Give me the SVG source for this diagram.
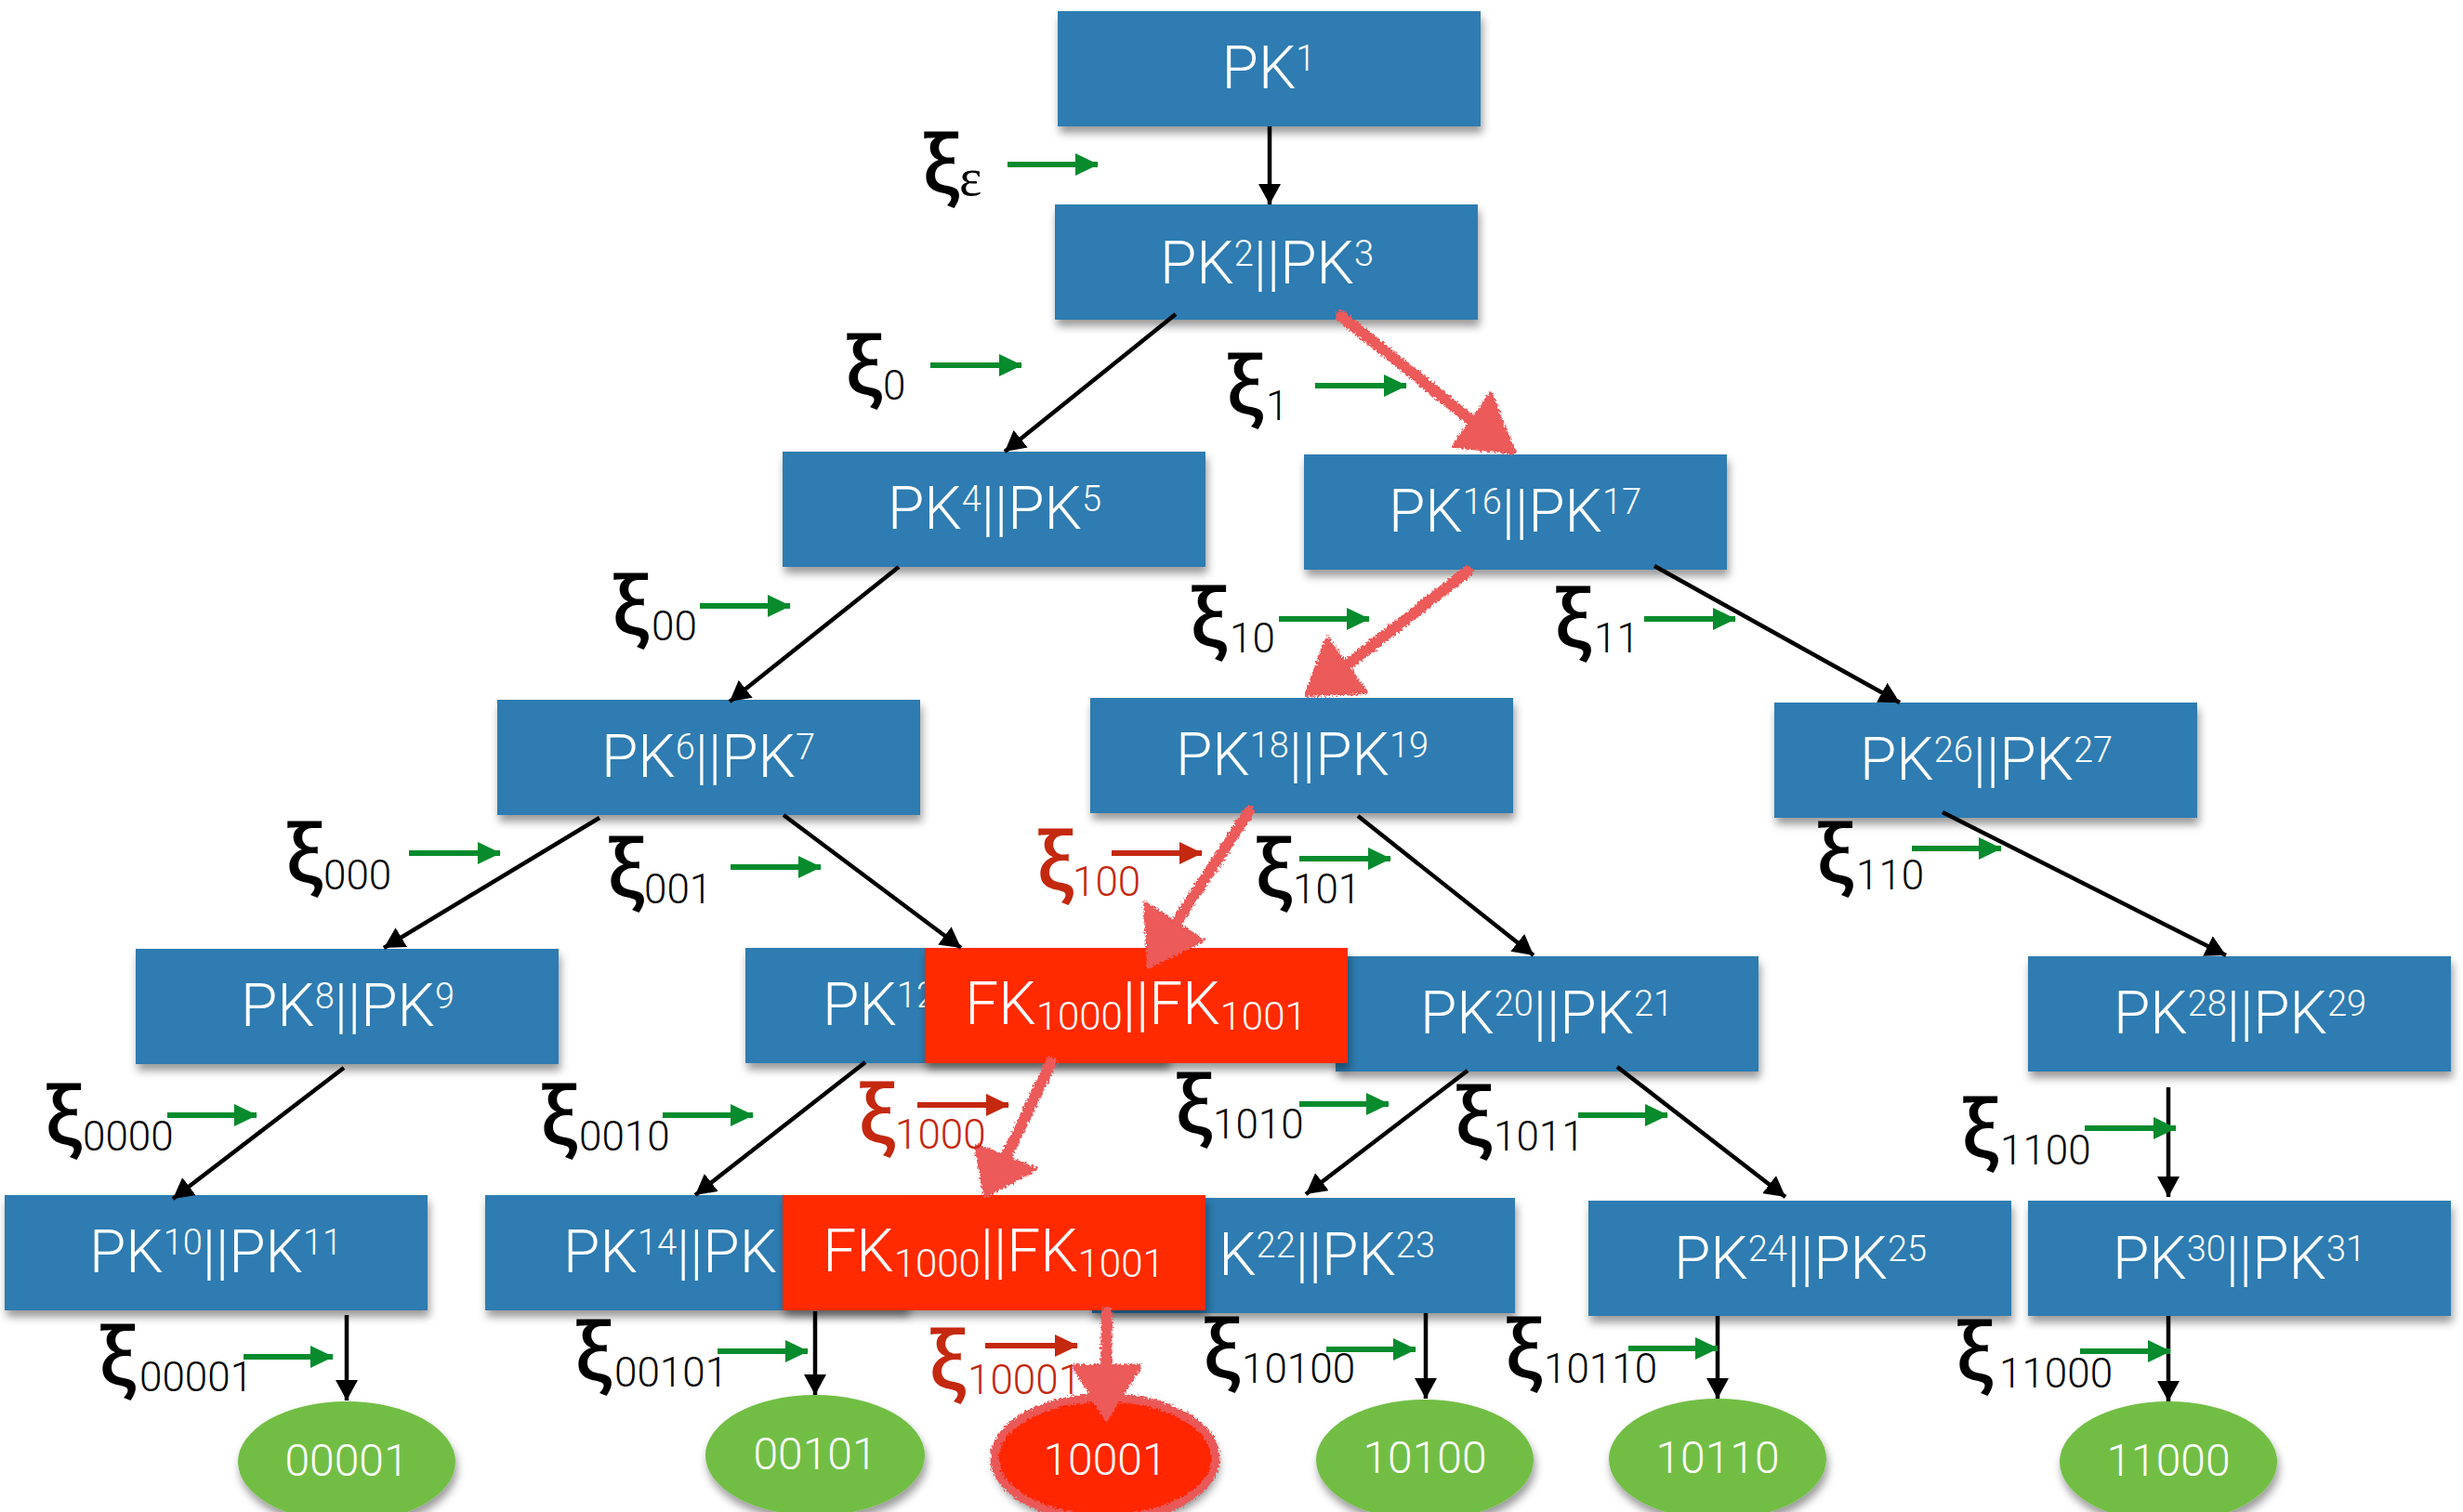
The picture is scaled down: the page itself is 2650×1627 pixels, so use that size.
<svg xmlns="http://www.w3.org/2000/svg" width="2650" height="1627" viewBox="0 0 2650 1627">
  <defs>
    <style>
      .box { fill: #2f7bb1; }
      .fbox { fill: #ff2a00; }
      .leaf { fill: #72be45; }
      .bt { font-family: Roboto, "Liberation Sans", sans-serif; font-weight: 300; font-size: 64px; fill: #ffffff; }
      .sup { font-size: 38px; }
      .sub { font-size: 42px; }
      .lt { font-family: Roboto, "Liberation Sans", sans-serif; font-weight: 300; font-size: 48px; fill: #ffffff; text-anchor: middle; }
      .xi { font-family: "Noto Sans CJK SC", Roboto, sans-serif; font-weight: 500; font-size: 82px; fill: #000000; }
      .xs { font-family: Roboto, "Liberation Sans", sans-serif; font-weight: 300; font-size: 44px; fill: #000000; }
      .red { fill: #c4280f; }
      .edge { stroke: #000000; stroke-width: 4.5; fill: none; marker-end: url(#ah); }
      .gk { stroke: #078b2d; stroke-width: 6; fill: none; marker-end: url(#gh); }
      .rk { stroke: #c4280f; stroke-width: 6; fill: none; marker-end: url(#rh); }
      .path { stroke: #ec5a5a; stroke-width: 12; fill: none; stroke-linecap: round; }
      .pathhead { fill: #ec5a5a; stroke: #ec5a5a; stroke-width: 4; stroke-linejoin: round; }
    </style>
    <marker id="ah" viewBox="0 0 22 24" markerWidth="22" markerHeight="24" refX="22" refY="12" orient="auto" markerUnits="userSpaceOnUse">
      <path d="M0,0 L22,12 L0,24 Z" fill="#000000"/>
    </marker>
    <marker id="gh" viewBox="0 0 25 24" markerWidth="25" markerHeight="24" refX="24" refY="12" orient="auto" markerUnits="userSpaceOnUse">
      <path d="M0,0 L25,12 L0,24 Z" fill="#078b2d"/>
    </marker>
    <marker id="rh" viewBox="0 0 25 24" markerWidth="25" markerHeight="24" refX="24" refY="12" orient="auto" markerUnits="userSpaceOnUse">
      <path d="M0,0 L25,12 L0,24 Z" fill="#c4280f"/>
    </marker>
    <filter id="shadow" x="-10%" y="-20%" width="125%" height="160%">
      <feDropShadow dx="2" dy="7" stdDeviation="5" flood-color="#000000" flood-opacity="0.4"/>
    </filter>
    <filter id="chalk" x="-20%" y="-20%" width="140%" height="140%">
      <feTurbulence type="fractalNoise" baseFrequency="0.4" numOctaves="2" seed="3" result="n"/>
      <feDisplacementMap in="SourceGraphic" in2="n" scale="7" xChannelSelector="R" yChannelSelector="G"/>
    </filter>
  </defs>

  <rect width="2650" height="1627" fill="#ffffff"/>

  <!-- key boxes -->
  <g id="nodes">
    <g id="pk1"><rect class="box" x="1138" y="12" width="455" height="124" filter="url(#shadow)"/>
      <text class="bt" x="1365" y="95" text-anchor="middle">PK<tspan class="sup" dy="-19">1</tspan></text></g>
    <g id="pk2"><rect class="box" x="1135" y="220" width="455" height="124" filter="url(#shadow)"/>
      <text class="bt" x="1363" y="305" text-anchor="middle">PK<tspan class="sup" dy="-19">2</tspan><tspan dy="19">||PK</tspan><tspan class="sup" dy="-19">3</tspan></text></g>
    <g id="pk4"><rect class="box" x="842" y="486" width="455" height="124" filter="url(#shadow)"/>
      <text class="bt" x="1070" y="569" text-anchor="middle">PK<tspan class="sup" dy="-19">4</tspan><tspan dy="19">||PK</tspan><tspan class="sup" dy="-19">5</tspan></text></g>
    <g id="pk16"><rect class="box" x="1403" y="489" width="455" height="124" filter="url(#shadow)"/>
      <text class="bt" x="1630" y="572" text-anchor="middle">PK<tspan class="sup" dy="-19">16</tspan><tspan dy="19">||PK</tspan><tspan class="sup" dy="-19">17</tspan></text></g>
    <g id="pk6"><rect class="box" x="535" y="753" width="455" height="124" filter="url(#shadow)"/>
      <text class="bt" x="762" y="836" text-anchor="middle">PK<tspan class="sup" dy="-19">6</tspan><tspan dy="19">||PK</tspan><tspan class="sup" dy="-19">7</tspan></text></g>
    <g id="pk18"><rect class="box" x="1173" y="751" width="455" height="124" filter="url(#shadow)"/>
      <text class="bt" x="1401" y="834" text-anchor="middle">PK<tspan class="sup" dy="-19">18</tspan><tspan dy="19">||PK</tspan><tspan class="sup" dy="-19">19</tspan></text></g>
    <g id="pk26"><rect class="box" x="1909" y="756" width="455" height="124" filter="url(#shadow)"/>
      <text class="bt" x="2137" y="839" text-anchor="middle">PK<tspan class="sup" dy="-19">26</tspan><tspan dy="19">||PK</tspan><tspan class="sup" dy="-19">27</tspan></text></g>
    <g id="pk8"><rect class="box" x="146" y="1021" width="455" height="124" filter="url(#shadow)"/>
      <text class="bt" x="374" y="1104" text-anchor="middle">PK<tspan class="sup" dy="-19">8</tspan><tspan dy="19">||PK</tspan><tspan class="sup" dy="-19">9</tspan></text></g>
    <g id="pk12"><rect class="box" x="802" y="1020" width="455" height="124" filter="url(#shadow)"/>
      <text class="bt" x="885" y="1103">PK<tspan class="sup" dy="-19">12</tspan></text></g>
    <g id="pk20"><rect class="box" x="1437" y="1029" width="455" height="124" filter="url(#shadow)"/>
      <text class="bt" x="1664" y="1112" text-anchor="middle">PK<tspan class="sup" dy="-19">20</tspan><tspan dy="19">||PK</tspan><tspan class="sup" dy="-19">21</tspan></text></g>
    <g id="fk-upper"><rect class="fbox" x="995" y="1020" width="455" height="124" filter="url(#shadow)"/>
      <text class="bt" x="1222" y="1102" text-anchor="middle">FK<tspan class="sub" dy="6">1000</tspan><tspan dy="-6">||FK</tspan><tspan class="sub" dy="6">1001</tspan></text></g>
    <g id="pk28"><rect class="box" x="2182" y="1029" width="455" height="124" filter="url(#shadow)"/>
      <text class="bt" x="2410" y="1112" text-anchor="middle">PK<tspan class="sup" dy="-19">28</tspan><tspan dy="19">||PK</tspan><tspan class="sup" dy="-19">29</tspan></text></g>
    <g id="pk10"><rect class="box" x="5" y="1286" width="455" height="124" filter="url(#shadow)"/>
      <text class="bt" x="232" y="1369" text-anchor="middle">PK<tspan class="sup" dy="-19">10</tspan><tspan dy="19">||PK</tspan><tspan class="sup" dy="-19">11</tspan></text></g>
    <g id="pk14"><rect class="box" x="522" y="1286" width="455" height="124" filter="url(#shadow)"/>
      <text class="bt" x="606" y="1369">PK<tspan class="sup" dy="-19">14</tspan><tspan dy="19">||PK</tspan></text></g>
    <g id="pk22"><rect class="box" x="1175" y="1289" width="455" height="124" filter="url(#shadow)"/>
      <text class="bt" x="1544" y="1372" text-anchor="end">K<tspan class="sup" dy="-19">22</tspan><tspan dy="19">||PK</tspan><tspan class="sup" dy="-19">23</tspan></text></g>
    <g id="fk-lower"><rect class="fbox" x="842" y="1286" width="455" height="124" filter="url(#shadow)"/>
      <text class="bt" x="1069" y="1368" text-anchor="middle">FK<tspan class="sub" dy="6">1000</tspan><tspan dy="-6">||FK</tspan><tspan class="sub" dy="6">1001</tspan></text></g>
    <g id="pk24"><rect class="box" x="1709" y="1292" width="455" height="124" filter="url(#shadow)"/>
      <text class="bt" x="1937" y="1376" text-anchor="middle">PK<tspan class="sup" dy="-19">24</tspan><tspan dy="19">||PK</tspan><tspan class="sup" dy="-19">25</tspan></text></g>
    <g id="pk30"><rect class="box" x="2182" y="1292" width="455" height="124" filter="url(#shadow)"/>
      <text class="bt" x="2409" y="1376" text-anchor="middle">PK<tspan class="sup" dy="-19">30</tspan><tspan dy="19">||PK</tspan><tspan class="sup" dy="-19">31</tspan></text></g>

    <!-- leaves -->
    <g id="leaf-00001"><ellipse class="leaf" cx="373" cy="1573" rx="117" ry="65" filter="url(#shadow)"/>
      <text class="lt" x="373" y="1588">00001</text></g>
    <g id="leaf-00101"><ellipse class="leaf" cx="877" cy="1566" rx="118" ry="65" filter="url(#shadow)"/>
      <text class="lt" x="877" y="1581">00101</text></g>
    <g id="leaf-10001"><ellipse cx="1189" cy="1569" rx="121" ry="67" fill="#ff2600" filter="url(#shadow)"/>
      <ellipse cx="1189" cy="1569" rx="119" ry="65" fill="none" stroke="#ea5858" stroke-width="9" filter="url(#chalk)"/>
      <text class="lt" x="1189" y="1587">10001</text></g>
    <g id="leaf-10100"><ellipse class="leaf" cx="1533" cy="1571" rx="117" ry="65" filter="url(#shadow)"/>
      <text class="lt" x="1533" y="1585">10100</text></g>
    <g id="leaf-10110"><ellipse class="leaf" cx="1848" cy="1570" rx="117" ry="65" filter="url(#shadow)"/>
      <text class="lt" x="1848" y="1585">10110</text></g>
    <g id="leaf-11000"><ellipse class="leaf" cx="2333" cy="1573" rx="117" ry="65" filter="url(#shadow)"/>
      <text class="lt" x="2333" y="1588">11000</text></g>
  </g>

  <!-- tree edges -->
  <g id="connectors">
    <line class="edge" x1="1366" y1="136" x2="1366" y2="220"/>
    <line class="edge" x1="1265" y1="338" x2="1081" y2="486"/>
    <line class="edge" x1="967" y1="610" x2="785" y2="755"/>
    <line class="edge" x1="1780" y1="609" x2="2044" y2="756"/>
    <line class="edge" x1="645" y1="880" x2="413" y2="1020"/>
    <line class="edge" x1="843" y1="877" x2="1034" y2="1020"/>
    <line class="edge" x1="1461" y1="878" x2="1650" y2="1028"/>
    <line class="edge" x1="2090" y1="874" x2="2395" y2="1028"/>
    <line class="edge" x1="370" y1="1149" x2="186" y2="1290"/>
    <line class="edge" x1="931" y1="1143" x2="748" y2="1286"/>
    <line class="edge" x1="1579" y1="1152" x2="1405" y2="1285"/>
    <line class="edge" x1="1740" y1="1148" x2="1921" y2="1288"/>
    <line class="edge" x1="2333" y1="1170" x2="2333" y2="1288"/>
    <line class="edge" x1="373" y1="1415" x2="373" y2="1507"/>
    <line class="edge" x1="877" y1="1411" x2="877" y2="1501"/>
    <line class="edge" x1="1534" y1="1413" x2="1534" y2="1505"/>
    <line class="edge" x1="1848" y1="1416" x2="1848" y2="1505"/>
    <line class="edge" x1="2333" y1="1416" x2="2333" y2="1508"/>

    <!-- short input arrows beside each label -->
    <line class="gk" x1="1084" y1="177" x2="1181" y2="177"/>
    <line class="gk" x1="1001" y1="393" x2="1099" y2="393"/>
    <line class="gk" x1="1415" y1="415" x2="1513" y2="415"/>
    <line class="gk" x1="753" y1="652" x2="850" y2="652"/>
    <line class="gk" x1="1376" y1="666" x2="1473" y2="666"/>
    <line class="gk" x1="1769" y1="666" x2="1867" y2="666"/>
    <line class="gk" x1="440" y1="918" x2="538" y2="918"/>
    <line class="gk" x1="786" y1="933" x2="883" y2="933"/>
    <line class="gk" x1="1398" y1="924" x2="1496" y2="924"/>
    <line class="gk" x1="2057" y1="913" x2="2153" y2="913"/>
    <line class="gk" x1="180" y1="1200" x2="276" y2="1200"/>
    <line class="gk" x1="713" y1="1200" x2="810" y2="1200"/>
    <line class="gk" x1="1398" y1="1188" x2="1494" y2="1188"/>
    <line class="gk" x1="1698" y1="1200" x2="1794" y2="1200"/>
    <line class="gk" x1="2243" y1="1214" x2="2341" y2="1214"/>
    <line class="gk" x1="262" y1="1460" x2="358" y2="1460"/>
    <line class="gk" x1="772" y1="1454" x2="869" y2="1454"/>
    <line class="gk" x1="1427" y1="1452" x2="1523" y2="1452"/>
    <line class="gk" x1="1752" y1="1451" x2="1848" y2="1451"/>
    <line class="gk" x1="2238" y1="1454" x2="2335" y2="1454"/>
    <line class="rk" x1="1196" y1="918" x2="1293" y2="918"/>
    <line class="rk" x1="987" y1="1189" x2="1085" y2="1189"/>
    <line class="rk" x1="1060" y1="1448" x2="1159" y2="1448"/>

    <!-- hand-drawn path through the tree -->
    <g filter="url(#chalk)">
      <line class="path" x1="1443" y1="340" x2="1590" y2="458"/>
      <polygon class="pathhead" points="1604,424 1629,487 1564,480"/>
      <line class="path" x1="1579" y1="615" x2="1446" y2="718"/>
      <polygon class="pathhead" points="1428,687 1470,745 1405,748"/>
      <line class="path" x1="1344" y1="873" x2="1262" y2="998"/>
      <polygon class="pathhead" points="1232,972 1294,1012 1236,1040"/>
      <line class="path" x1="1131" y1="1143" x2="1080" y2="1250"/>
      <polygon class="pathhead" points="1050,1232 1114,1258 1060,1287"/>
      <line class="path" x1="1191" y1="1412" x2="1190" y2="1475"/>
      <polygon class="pathhead" points="1155,1470 1227,1470 1190,1527"/>
    </g>
  </g>

  <!-- labels -->
  <g id="labels">
    <g id="xi-e"><text class="xi" x="992" y="207">ξ</text><text x="1032" y="210" font-family="'Liberation Serif', serif" font-size="58">ε</text></g>
    <g id="xi-0"><text class="xi" x="909" y="424">ξ</text><text class="xs" x="950" y="430">0</text></g>
    <g id="xi-1"><text class="xi" x="1319" y="445">ξ</text><text class="xs" x="1362" y="452">1</text></g>
    <g id="xi-00"><text class="xi" x="658" y="682">ξ</text><text class="xs" x="701" y="689">00</text></g>
    <g id="xi-10"><text class="xi" x="1280" y="695">ξ</text><text class="xs" x="1323" y="702">10</text></g>
    <g id="xi-11"><text class="xi" x="1672" y="696">ξ</text><text class="xs" x="1715" y="702">11</text></g>
    <g id="xi-000"><text class="xi" x="307" y="949">ξ</text><text class="xs" x="348" y="957">000</text></g>
    <g id="xi-001"><text class="xi" x="653" y="965">ξ</text><text class="xs" x="693" y="972">001</text></g>
    <g id="xi-100"><text class="xi red" x="1115" y="957">ξ</text><text class="xs red" x="1154" y="964">100</text></g>
    <g id="xi-101"><text class="xi" x="1350" y="965">ξ</text><text class="xs" x="1391" y="972">101</text></g>
    <g id="xi-110"><text class="xi" x="1954" y="949">ξ</text><text class="xs" x="1997" y="957">110</text></g>
    <g id="xi-0000"><text class="xi" x="48" y="1231">ξ</text><text class="xs" x="89" y="1238">0000</text></g>
    <g id="xi-0010"><text class="xi" x="581" y="1231">ξ</text><text class="xs" x="623" y="1238">0010</text></g>
    <g id="xi-1000"><text class="xi red" x="923" y="1229">ξ</text><text class="xs red" x="963" y="1236">1000</text></g>
    <g id="xi-1010"><text class="xi" x="1264" y="1219">ξ</text><text class="xs" x="1305" y="1225">1010</text></g>
    <g id="xi-1011"><text class="xi" x="1565" y="1232">ξ</text><text class="xs" x="1607" y="1238">1011</text></g>
    <g id="xi-1100"><text class="xi" x="2110" y="1245">ξ</text><text class="xs" x="2152" y="1253">1100</text></g>
    <g id="xi-00001"><text class="xi" x="106" y="1490">ξ</text><text class="xs" x="150" y="1497">00001</text></g>
    <g id="xi-00101"><text class="xi" x="618" y="1485">ξ</text><text class="xs" x="661" y="1492">00101</text></g>
    <g id="xi-10001"><text class="xi red" x="999" y="1494">ξ</text><text class="xs red" x="1041" y="1500">10001</text></g>
    <g id="xi-10100"><text class="xi" x="1294" y="1482">ξ</text><text class="xs" x="1336" y="1488">10100</text></g>
    <g id="xi-10110"><text class="xi" x="1619" y="1482">ξ</text><text class="xs" x="1661" y="1488">10110</text></g>
    <g id="xi-11000"><text class="xi" x="2104" y="1485">ξ</text><text class="xs" x="2151" y="1493">11000</text></g>
  </g>
</svg>
